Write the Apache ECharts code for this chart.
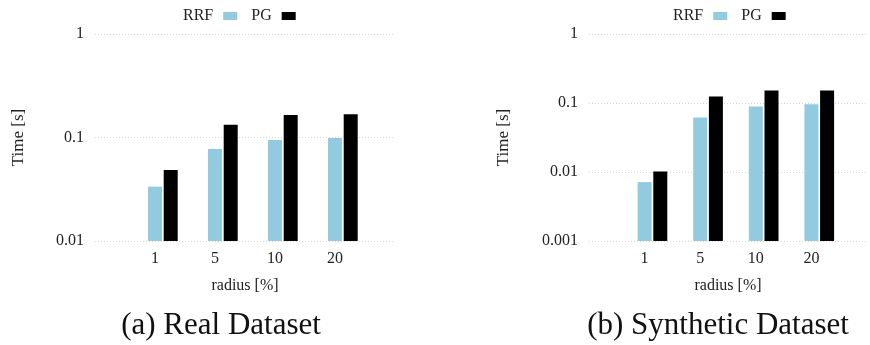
<!DOCTYPE html>
<html>
<head>
<meta charset="utf-8">
<script src="https://cdn.jsdelivr.net/npm/echarts@6/dist/echarts.min.js"></script>
<style>html,body{margin:0;padding:0;background:#fff}#c{width:870px;height:345px}</style>
</head>
<body>
<div id="c"></div>
<script>
// ---- data ----
var radiusLabels = ['1', '5', '10', '20'];
var realRRF = [0.0335, 0.0774, 0.0946, 0.099];
var realPG = [0.0485, 0.133, 0.165, 0.168];
var synthRRF = [0.00714, 0.0617, 0.089, 0.096];
var synthPG = [0.0102, 0.124, 0.152, 0.152];
var realTicks = [0.01, 0.1, 1];
var synthTicks = [0.001, 0.01, 0.1, 1];
var captions = ['(a) Real Dataset', '(b) Synthetic Dataset'];

var FONT = 'Liberation Serif';
var RRF_COLOR = '#92CBE0';
var PG_COLOR = '#000000';
var BAR_W = 14;

var cats = [''].concat(radiusLabels, ['']);

var chart = echarts.init(document.getElementById('c'), null, {renderer: 'canvas'});

function xAxis(gi) {
  return {
    type: 'category', gridIndex: gi, data: cats, boundaryGap: false,
    axisLine: {show: false}, axisTick: {show: false},
    axisLabel: {fontFamily: FONT, fontSize: 16, color: '#222', margin: 10},
    splitLine: {show: false},
    name: 'radius [%]', nameLocation: 'middle', nameGap: 37,
    nameTextStyle: {fontFamily: FONT, fontSize: 16, color: '#222'}
  };
}
function yAxis(gi, ticks, gap) {
  return {
    type: 'log', gridIndex: gi, logBase: 10,
    min: ticks[0], max: ticks[ticks.length - 1],
    axisLine: {show: false}, axisTick: {show: false},
    axisLabel: {fontFamily: FONT, fontSize: 16, color: '#222', margin: 11,
      formatter: function (v) { return String(+v.toPrecision(3)); }},
    splitLine: {show: true, lineStyle: {color: '#d8d8d8', width: 1, type: [1, 2]}},
    name: 'Time [s]', nameLocation: 'middle', nameGap: gap, nameRotate: 90,
    nameTextStyle: {fontFamily: FONT, fontSize: 17, color: '#222'}
  };
}
// bars drawn through the axes' own scales (api.coord), anchored at the axis minimum
function barSeries(name, values, color, idx, shift, axisMin) {
  return {
    name: name, type: 'custom', xAxisIndex: idx, yAxisIndex: idx,
    itemStyle: {color: color},
    encode: {x: 0, y: 1},
    data: values.map(function (v, i) { return [radiusLabels[i], v]; }),
    silent: true,
    renderItem: function (params, api) {
      var top = api.coord([api.value(0), api.value(1)]);
      var base = api.coord([api.value(0), axisMin]);
      var x = top[0] - BAR_W / 2 + shift;
      return {
        type: 'rect',
        shape: {x: x, y: top[1], width: BAR_W, height: base[1] - top[1]},
        style: {fill: color}
      };
    }
  };
}

var legendCommon = {
  orient: 'horizontal', align: 'right', itemWidth: 14, itemHeight: 8, itemGap: 14,
  icon: 'rect', top: 3,
  textStyle: {fontFamily: FONT, fontSize: 16, color: '#222', padding: [0, 5, 0, 0]},
  data: [{name: 'RRF', itemStyle: {color: RRF_COLOR}}, {name: 'PG', itemStyle: {color: PG_COLOR}}]
};

chart.setOption({
  animation: false,
  backgroundColor: '#fff',
  title: [
    {text: captions[0], left: 216, top: 305, textAlign: 'center',
      textStyle: {fontFamily: FONT, fontSize: 31, fontWeight: 'normal', color: '#111'}},
    {text: captions[1], left: 713, top: 305, textAlign: 'center',
      textStyle: {fontFamily: FONT, fontSize: 31, fontWeight: 'normal', color: '#111'}}
  ],
  legend: [
    Object.assign({}, legendCommon, {left: 178}),
    Object.assign({}, legendCommon, {left: 668})
  ],
  grid: [
    {left: 95, top: 34, width: 300, height: 207},
    {left: 589, top: 34, width: 294, height: 207}
  ],
  xAxis: [xAxis(0), xAxis(1)],
  yAxis: [yAxis(0, realTicks, 68), yAxis(1, synthTicks, 77)],
  series: [
    barSeries('RRF', realRRF, RRF_COLOR, 0, 0, realTicks[0]),
    barSeries('PG', realPG, PG_COLOR, 0, BAR_W + 1.7, realTicks[0]),
    barSeries('RRF', synthRRF, RRF_COLOR, 1, 0, synthTicks[0]),
    barSeries('PG', synthPG, PG_COLOR, 1, BAR_W + 1.7, synthTicks[0])
  ]
});
</script>
</body>
</html>
